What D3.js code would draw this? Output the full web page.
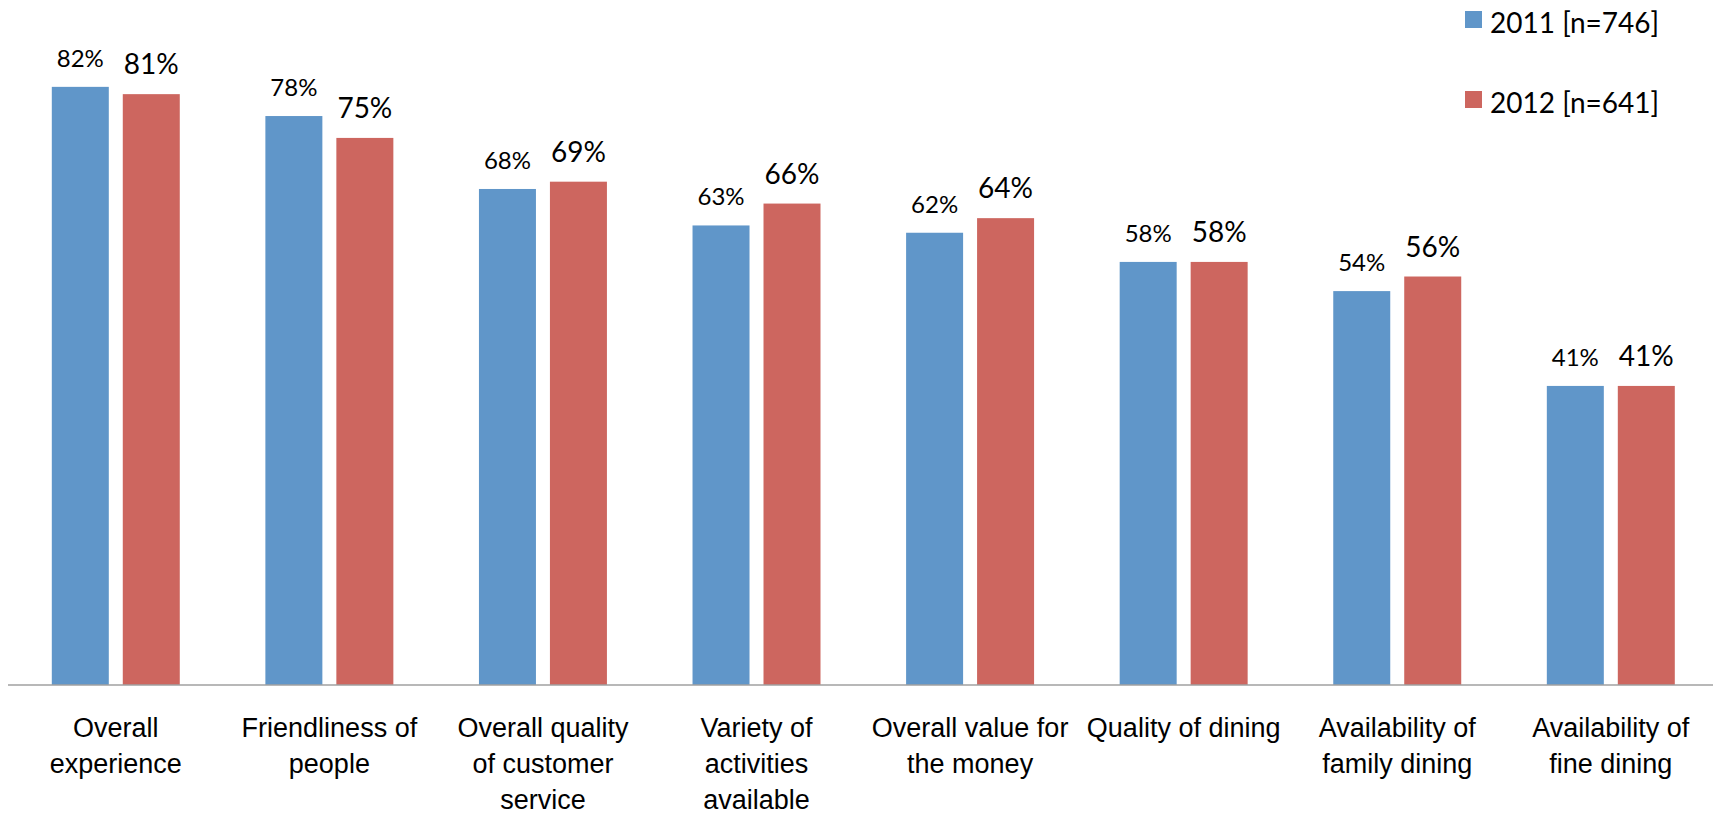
<!DOCTYPE html>
<html>
<head>
<meta charset="utf-8">
<script src="https://cdn.jsdelivr.net/npm/d3@7"></script>
<style>
  html, body { margin: 0; padding: 0; background: #ffffff; }
  svg { display: block; font-family: Lato, "Open Sans", sans-serif; }
</style>
</head>
<body>
<svg id="chart" width="1713" height="815"></svg>
<script>
// Satisfaction ratings by year (percent of respondents)
const categories = [
  "Overall experience",
  "Friendliness of people",
  "Overall quality of customer service",
  "Variety of activities available",
  "Overall value for the money",
  "Quality of dining",
  "Availability of family dining",
  "Availability of fine dining"
];
const categoryLines = [
  ["Overall", "experience"],
  ["Friendliness of", "people"],
  ["Overall quality", "of customer", "service"],
  ["Variety of", "activities", "available"],
  ["Overall value for", "the money"],
  ["Quality of dining"],
  ["Availability of", "family dining"],
  ["Availability of", "fine dining"]
];
const seriesNames = ["2011 [n=746]", "2012 [n=641]"];
const values2011 = [82, 78, 68, 63, 62, 58, 54, 41];
const values2012 = [81, 75, 69, 66, 64, 58, 56, 41];
const seriesValues = [values2011, values2012];
const seriesColors = ["#6096C9", "#CD665F"];

const svg = d3.select("#chart");

const plot = { left: 9, right: 1717.6, top: 28.5, bottom: 685 };

const x0 = d3.scaleBand()
  .domain(categories)
  .range([plot.left, plot.right])
  .paddingInner(0)
  .paddingOuter(0);

const groupPad = 42.8;
const x1 = d3.scaleBand()
  .domain([0, 1])
  .range([groupPad, x0.bandwidth() - groupPad])
  .paddingInner(0.197)
  .paddingOuter(0);

const y = d3.scaleLinear()
  .domain([0, 90])
  .range([plot.bottom, plot.top]);

// bars
const groups = svg.append("g")
  .selectAll("g")
  .data(categories)
  .join("g")
  .attr("transform", d => `translate(${x0(d)},0)`);

groups.selectAll("rect")
  .data((d, i) => seriesValues.map((vals, s) => ({ s, v: vals[i] })))
  .join("rect")
  .attr("x", d => x1(d.s))
  .attr("y", d => y(d.v))
  .attr("width", x1.bandwidth())
  .attr("height", d => y(0) - y(d.v))
  .attr("fill", d => seriesColors[d.s]);

// value labels
const labelSizes = [24, 28];
groups.selectAll("text.val")
  .data((d, i) => seriesValues.map((vals, s) => ({ s, v: vals[i] })))
  .join("text")
  .attr("class", "val")
  .attr("x", d => x1(d.s) + x1.bandwidth() / 2)
  .attr("y", d => y(d.v) - 20)
  .attr("text-anchor", "middle")
  .attr("font-size", d => labelSizes[d.s])
  .attr("fill", "#000")
  .text(d => d.v + "%");

// category axis (ticks sit at band centres)
const xAxis = d3.axisBottom(x0).tickSize(0).tickFormat("");
const axisG = svg.append("g")
  .attr("transform", `translate(0,${plot.bottom})`)
  .call(xAxis);
axisG.select(".domain")
  .attr("d", `M${plot.left - 1},0H1713`)
  .attr("stroke", "#A0A0A0")
  .attr("stroke-width", 1.6);

const lineH = 36;
axisG.selectAll(".tick").each(function (d, i) {
  const t = d3.select(this).append("text")
    .attr("text-anchor", "middle")
    .attr("font-size", 27)
    .attr("fill", "#000");
  categoryLines[i].forEach((line, k) => {
    t.append("tspan")
      .attr("x", 0)
      .attr("y", 52 + k * lineH)
      .text(line);
  });
});
axisG.selectAll(".tick line").remove();

// legend
const legend = svg.append("g")
  .selectAll("g")
  .data(seriesNames)
  .join("g")
  .attr("transform", (d, i) => `translate(1465,${11 + i * 80})`);
legend.append("rect")
  .attr("width", 17)
  .attr("height", 17)
  .attr("fill", (d, i) => seriesColors[i]);
legend.append("text")
  .attr("x", 25)
  .attr("y", 22)
  .attr("font-size", 28)
  .attr("fill", "#000")
  .text(d => d);
</script>
</body>
</html>
